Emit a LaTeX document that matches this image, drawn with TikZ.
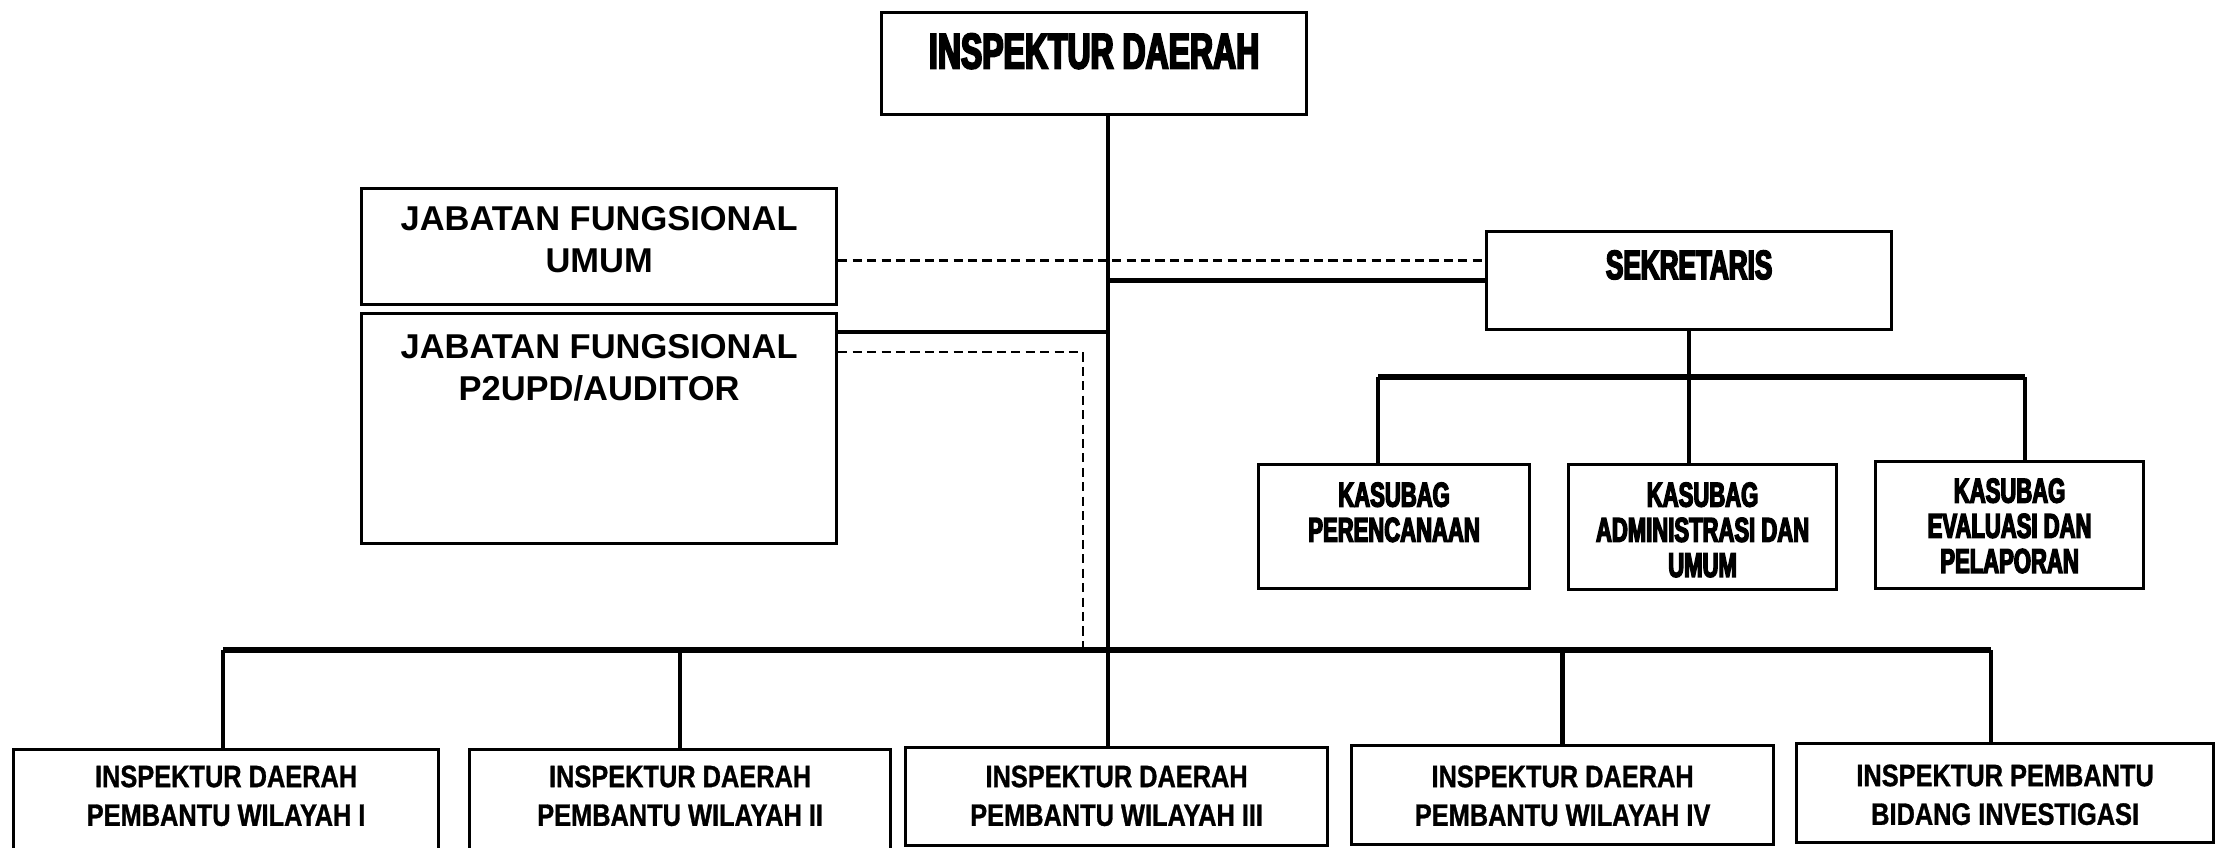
\documentclass[tikz,border=0pt]{standalone}
\usepackage{fontspec}
\newfontfamily\heavyfont{Liberation Sans Bold}[FakeStretch=0.64,FakeBold=4]
\newfontfamily\jabfont{Liberation Sans Bold}
\newfontfamily\unitfont{Liberation Sans Bold}[FakeStretch=0.82,FakeBold=1]
\begin{document}
\begin{tikzpicture}[x=0.01cm,y=-0.01cm]

    \tikzset{
      unit/.style n args={3}{
        draw,
        line width=0.85pt,
        inner sep=0pt,
        anchor=north west,
        execute at begin node={\begin{minipage}[c][#2][t]{#1}\centering\vspace*{#3}},
        execute at end node={\end{minipage}},
      },
      conn/.style={line width=1.25pt},
      bus/.style={line width=1.5pt},
      dashline/.style={line width=0.7pt, dash pattern=on 2.6pt off 1.5pt},
      heavytext/.style={font=\heavyfont\fontsize{#1}{10}\selectfont},
      jabtext/.style={font=\jabfont\fontsize{9.8}{11.8}\selectfont},
      unittext/.style={font=\unitfont\fontsize{8.8}{11}\selectfont},
    }
    \clip (0,0) rectangle (2226,847);

    % top and staff boxes
    \node[unit={4.25cm}{1.02cm}{0.21cm}, heavytext=14.2] (inspektur) at (880,11) {INSPEKTUR DAERAH};
    \node[unit={4.75cm}{1.16cm}{0.18cm}, jabtext] (jfu) at (360,187) {JABATAN FUNGSIONAL\\UMUM};
    \node[unit={4.75cm}{2.30cm}{0.21cm}, jabtext] (jfp) at (360,312) {JABATAN FUNGSIONAL\\P2UPD/AUDITOR};
    \node[unit={4.05cm}{0.98cm}{0.19cm}, heavytext=11.6] (sekretaris) at (1485,230) {SEKRETARIS};

    % kasubag boxes
    \node[unit={2.71cm}{1.24cm}{0.18cm}, heavytext=9.8] (kp) at (1257,463) {KASUBAG\\PERENCANAAN};
    \node[unit={2.68cm}{1.25cm}{0.18cm}, heavytext=9.8] (ka) at (1567,463) {KASUBAG\\ADMINISTRASI DAN\\UMUM};
    \node[unit={2.68cm}{1.27cm}{0.17cm}, heavytext=9.8] (ke) at (1874,460) {KASUBAG\\EVALUASI DAN\\PELAPORAN};

    % wilayah boxes
    \node[unit={4.25cm}{1.10cm}{0.16cm}, unittext] (w1) at (12,748) {INSPEKTUR DAERAH\\PEMBANTU WILAYAH I};
    \node[unit={4.21cm}{1.10cm}{0.16cm}, unittext] (w2) at (468,748) {INSPEKTUR DAERAH\\PEMBANTU WILAYAH II};
    \node[unit={4.22cm}{0.98cm}{0.18cm}, unittext] (w3) at (904,746) {INSPEKTUR DAERAH\\PEMBANTU WILAYAH III};
    \node[unit={4.22cm}{0.99cm}{0.20cm}, unittext] (w4) at (1350,744) {INSPEKTUR DAERAH\\PEMBANTU WILAYAH IV};
    \node[unit={4.17cm}{0.99cm}{0.21cm}, unittext] (w5) at (1795,742) {INSPEKTUR PEMBANTU\\BIDANG INVESTIGASI};

    \coordinate (trunk) at (1108,0);
    \coordinate (dashx) at (1083,0);
    \coordinate (busL) at (223,650);
    \coordinate (busR) at (1991,650);
    \coordinate (kbarL) at (1378,377);
    \coordinate (kbarR) at (2025,377);

    % lines
    \draw[conn] (trunk |- inspektur.south) -- (trunk |- w3.north);
    \draw[dashline] ([yshift=-0.14cm]jfu.east) coordinate (u) -- (u -| sekretaris.west);
    \draw[conn] (sekretaris.west) -- (sekretaris.west -| trunk);
    \draw[conn] ([yshift=-0.2cm]jfp.north east) coordinate (p) -- (p -| trunk);
    \draw[dashline] ([yshift=-0.4cm]jfp.north east) coordinate (q) -- (q -| dashx) -- (dashx |- busL);

    \draw[conn] (sekretaris.south) -- (sekretaris.south |- ka.north);
    \draw[bus] (kbarL) -- (kbarR);
    \draw[conn] (kbarL) -- (kbarL |- kp.north);
    \draw[conn] (kbarR) -- (kbarR |- ke.north);

    \draw[bus] (busL) -- (busR);
    \draw[conn] (busL) -- (busL |- w1.north);
    \draw[conn] (w2.north |- busL) -- (w2.north);
    \draw[conn] (w4.north |- busL) -- (w4.north);
    \draw[conn] (busR) -- (busR |- w5.north);

\end{tikzpicture}
\end{document}
